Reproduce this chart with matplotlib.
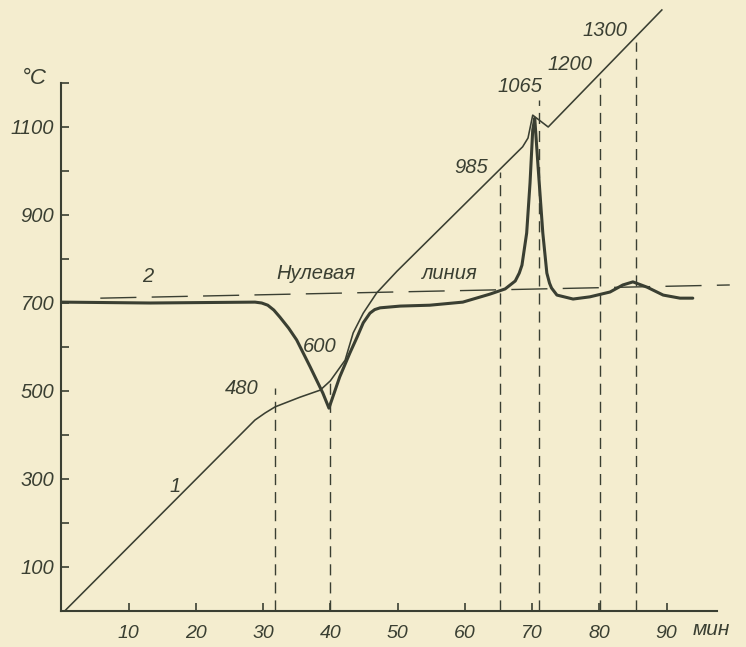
"""Термограмма: кривая нагрева (1) и дифференциальная кривая (2)."""
import matplotlib
matplotlib.use("Agg")
import matplotlib.pyplot as plt

PAPER = "#f4edcf"
INK = "#3a3f32"

# кривая 1 - температура образца, мин / °C
heat_t = [0.5, 28.8, 30.3, 31.8, 35.5, 38.5, 40.0, 42.2, 43.4, 44.9, 46.9,
          49.9, 68.6, 69.4, 70.1, 72.4, 89.3]
heat_T = [0, 434, 450, 464, 486, 502, 523, 570, 632, 677, 723,
          772, 1055, 1075, 1127, 1100, 1366]

# кривая 2 - дифференциальная запись
dta_t = [0.1, 13.2, 28.8, 29.8, 30.7, 31.6, 32.5, 33.8, 35.0, 37.0, 38.9,
         39.8, 41.4, 42.9, 44.0, 44.9, 45.9, 46.6, 47.4, 50.4, 54.8, 59.7,
         63.7, 66.0, 67.5, 68.1, 68.5, 69.2, 69.7, 70.1, 70.4, 70.9, 71.6,
         72.2, 72.6, 72.9, 73.7, 76.1, 78.6, 81.6, 83.5, 85.0, 87.1, 89.5,
         92.0, 93.9]
dta_T = [702, 700, 702, 700, 695, 684, 668, 643, 616, 555, 495,
         461, 532, 586, 623, 655, 677, 685, 689, 693, 695, 702,
         720, 732, 750, 768, 786, 859, 973, 1093, 1120, 1009, 859,
         768, 745, 734, 718, 709, 714, 725, 741, 748, 736, 718,
         711, 711]

# нулевая линия
zero_t = [5.8, 99.4]
zero_T = [711, 741]

# характерные точки
mark_t = [31.8, 40.0, 65.2, 71.0, 80.1, 85.5]
mark_top = [507, 530, 998, 1161, 1211, 1293]
mark_labels = ["480", "600", "985", "1065", "1200", "1300"]
# где стоят подписи (мин, °C)
mark_label_pos = [(26.9, 505), (38.5, 600), (60.9, 1007),
                  (68.2, 1191), (75.6, 1241), (80.8, 1320)]

x_ticks = [10, 20, 30, 40, 50, 60, 70, 80, 90]
y_major = [100, 300, 500, 700, 900, 1100]
y_minor = [200, 400, 600, 800, 1000, 1200]

plt.rcParams["font.family"] = ["Liberation Sans", "DejaVu Sans"]
plt.rcParams["font.style"] = "italic"

fig = plt.figure(figsize=(7.46, 6.47), dpi=100, facecolor=PAPER)
ax = fig.add_axes([61.3 / 746, 36 / 647, (746 - 61.3) / 746, 611 / 647])
ax.set_facecolor(PAPER)
ax.set_xlim(0, (746 - 61.3) / 6.725)
ax.set_ylim(0, 611 / 0.44)

for side in ("top", "right"):
    ax.spines[side].set_visible(False)
ax.spines["left"].set_bounds(0, 1200)
ax.spines["bottom"].set_bounds(0, 97.5)
for side in ("left", "bottom"):
    ax.spines[side].set_color(INK)
    ax.spines[side].set_linewidth(1.5)

ax.set_xticks(x_ticks)
ax.set_yticks(y_major)
ax.set_yticks(y_minor, minor=True)
ax.tick_params(axis="x", direction="in", length=6, width=1.2, colors=INK,
               labelsize=14, pad=10)
ax.tick_params(axis="y", which="both", direction="in", length=5.5, width=1.2,
               colors=INK, labelsize=14.5, pad=5)
for lab in ax.get_xticklabels() + ax.get_yticklabels():
    lab.set_fontstyle("italic")

# вертикальные пунктиры
for t, top in zip(mark_t, mark_top):
    ax.plot([t, t], [0, top], color=INK, lw=1.0, dashes=(8, 5))

ax.plot(zero_t, zero_T, color=INK, lw=1.0, dashes=(26, 11))
ax.plot(heat_t, heat_T, color=INK, lw=1.15, solid_joinstyle="round")
ax.plot(dta_t, dta_T, color=INK, lw=2.2, solid_joinstyle="round",
        solid_capstyle="round")

txt = dict(color=INK, fontsize=14.5, style="italic", ha="center", va="center")
for lab, (tx, ty) in zip(mark_labels, mark_label_pos):
    ax.text(tx, ty, lab, **txt)
ax.text(16.9, 282, "1", **txt)
ax.text(12.9, 760, "2", **txt)
ax.text(37.9, 766, "Нулевая", **txt)
ax.text(57.8, 766, "линия", **txt)
ax.text(-4.06, 1211, "°C", clip_on=False, **dict(txt, fontsize=16))
ax.text(96.7, -43, "мин", clip_on=False, **dict(txt, fontsize=15))

fig.savefig("out.png", dpi=100, facecolor=PAPER)
